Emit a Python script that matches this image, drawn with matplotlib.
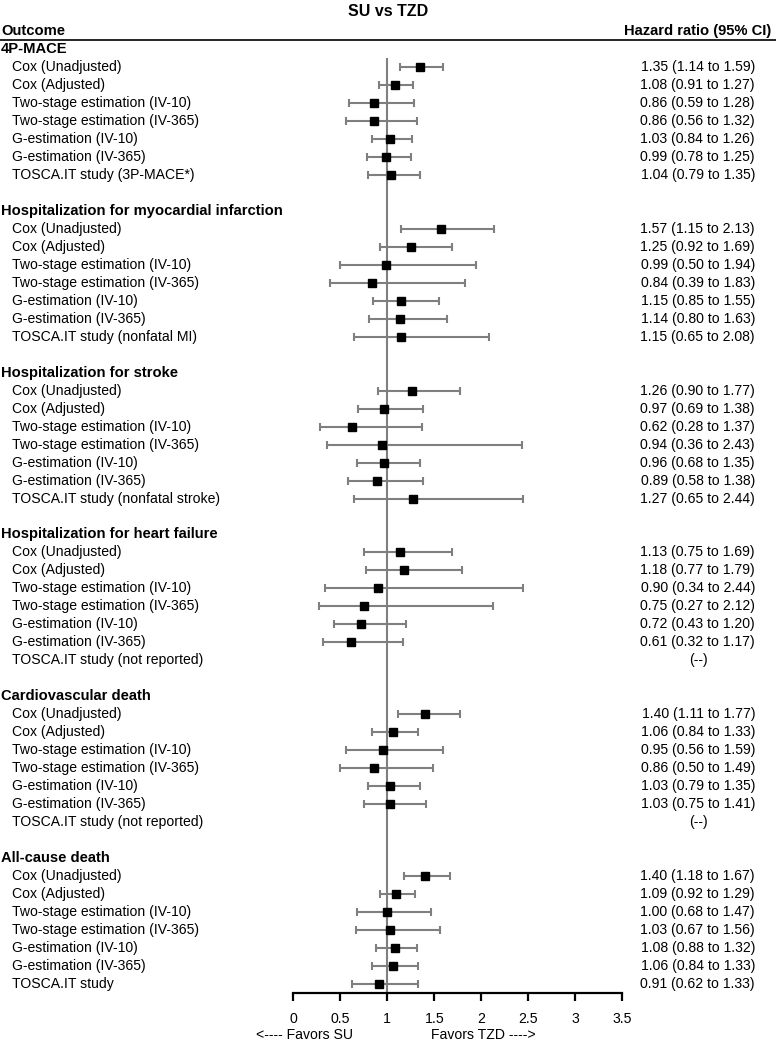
import matplotlib
matplotlib.use("Agg")
import matplotlib.pyplot as plt
from matplotlib.transforms import blended_transform_factory
from matplotlib.lines import Line2D

plt.rcParams['font.family'] = ['Liberation Sans', 'DejaVu Sans']

outcomes = ["4P-MACE",
            "Hospitalization for myocardial infarction",
            "Hospitalization for stroke",
            "Hospitalization for heart failure",
            "Cardiovascular death",
            "All-cause death"]

methods = ["Cox (Unadjusted)", "Cox (Adjusted)", "Two-stage estimation (IV-10)",
           "Two-stage estimation (IV-365)", "G-estimation (IV-10)", "G-estimation (IV-365)"]

tosca_labels = ["TOSCA.IT study (3P-MACE*)", "TOSCA.IT study (nonfatal MI)",
                "TOSCA.IT study (nonfatal stroke)", "TOSCA.IT study (not reported)",
                "TOSCA.IT study (not reported)", "TOSCA.IT study"]

hr_mace = [1.35, 1.08, 0.86, 0.86, 1.03, 0.99, 1.04]
lo_mace = [1.14, 0.91, 0.59, 0.56, 0.84, 0.78, 0.79]
hi_mace = [1.59, 1.27, 1.28, 1.32, 1.26, 1.25, 1.35]

hr_mi = [1.57, 1.25, 0.99, 0.84, 1.15, 1.14, 1.15]
lo_mi = [1.15, 0.92, 0.50, 0.39, 0.85, 0.80, 0.65]
hi_mi = [2.13, 1.69, 1.94, 1.83, 1.55, 1.63, 2.08]

hr_stroke = [1.26, 0.97, 0.62, 0.94, 0.96, 0.89, 1.27]
lo_stroke = [0.90, 0.69, 0.28, 0.36, 0.68, 0.58, 0.65]
hi_stroke = [1.77, 1.38, 1.37, 2.43, 1.35, 1.38, 2.44]

hr_hf = [1.13, 1.18, 0.90, 0.75, 0.72, 0.61, None]
lo_hf = [0.75, 0.77, 0.34, 0.27, 0.43, 0.32, None]
hi_hf = [1.69, 1.79, 2.44, 2.12, 1.20, 1.17, None]

hr_cvd = [1.40, 1.06, 0.95, 0.86, 1.03, 1.03, None]
lo_cvd = [1.11, 0.84, 0.56, 0.50, 0.79, 0.75, None]
hi_cvd = [1.77, 1.33, 1.59, 1.49, 1.35, 1.41, None]

hr_acd = [1.40, 1.09, 1.00, 1.03, 1.08, 1.06, 0.91]
lo_acd = [1.18, 0.92, 0.68, 0.67, 0.88, 0.84, 0.62]
hi_acd = [1.67, 1.29, 1.47, 1.56, 1.32, 1.33, 1.33]

hrs = [hr_mace, hr_mi, hr_stroke, hr_hf, hr_cvd, hr_acd]
los = [lo_mace, lo_mi, lo_stroke, lo_hf, lo_cvd, lo_acd]
his = [hi_mace, hi_mi, hi_stroke, hi_hf, hi_cvd, hi_acd]

xticks = [0, 0.5, 1, 1.5, 2, 2.5, 3, 3.5]
xticklabels = ["0", "0.5", "1", "1.5", "2", "2.5", "3", "3.5"]

W, H = 776, 1041
fig = plt.figure(figsize=(W / 100, H / 100), dpi=100)

row0_px = 49.3
row_h = 17.97
top_px = 31.3
bot_px = 993.0
r_top = (top_px - row0_px) / row_h
r_bot = (bot_px - row0_px) / row_h

ax_left = 293.3 / W
ax_w = (622.3 - 293.3) / W
ax = fig.add_axes([ax_left, (H - bot_px) / H, ax_w, (bot_px - top_px) / H])
ax.set_xlim(0, 3.5)
ax.set_ylim(r_bot, r_top)

for s in ["top", "right", "left"]:
    ax.spines[s].set_visible(False)
ax.spines["bottom"].set_linewidth(1.6)
ax.set_yticks([])
ax.set_xticks(xticks)
ax.set_xticklabels(xticklabels, fontsize=10.2)
ax.tick_params(axis="x", direction="out", length=6, width=1.6, pad=8)

grey = "#7f7f7f"
ax.vlines(1, 0.48, r_bot, color=grey, lw=1.5, zorder=1)

trans_left = blended_transform_factory(fig.transFigure, ax.transData)
fs = 10.1
fsb = 10.6

row = 0
for k, name in enumerate(outcomes):
    ax.text(1 / W, row, name, transform=trans_left, fontsize=fsb, fontweight="bold",
            va="center", ha="left")
    row += 1
    labels = methods + [tosca_labels[k]]
    for j, lab in enumerate(labels):
        ax.text(12 / W, row, lab, transform=trans_left, fontsize=fs, va="center", ha="left")
        hr, lo, hi = hrs[k][j], los[k][j], his[k][j]
        if hr is None:
            ax.text(698 / W, row, "(--)", transform=trans_left, fontsize=fs,
                    va="center", ha="center")
        else:
            ax.errorbar([hr], [row], xerr=[[hr - lo], [hi - hr]], fmt="s",
                        color="black", ecolor=grey, elinewidth=1.5, capsize=3,
                        capthick=1.5, markersize=5.6, zorder=3)
            ax.text(755 / W, row, f"{hr:.2f} ({lo:.2f} to {hi:.2f})",
                    transform=trans_left, fontsize=fs, va="center", ha="right")
        row += 1
    row += 1

fig.text(388 / W, 1 - 11 / H, "SU vs TZD", fontsize=11.5, fontweight="bold",
         ha="center", va="center")
fig.text(1 / W, 1 - 31 / H, "Outcome", fontsize=fsb, fontweight="bold",
         ha="left", va="center")
fig.text(771 / W, 1 - 31 / H, "Hazard ratio (95% CI)", fontsize=fsb, fontweight="bold",
         ha="right", va="center")
fig.add_artist(Line2D([0, 1], [1 - 40 / H, 1 - 40 / H], transform=fig.transFigure,
                      color="black", lw=1.2))

fig.text(305 / W, 1 - 1035 / H, "<---- Favors SU", fontsize=fs, ha="center", va="center")
fig.text(483 / W, 1 - 1035 / H, "Favors TZD ---->", fontsize=fs, ha="center", va="center")

fig.savefig("out.png", dpi=100)
